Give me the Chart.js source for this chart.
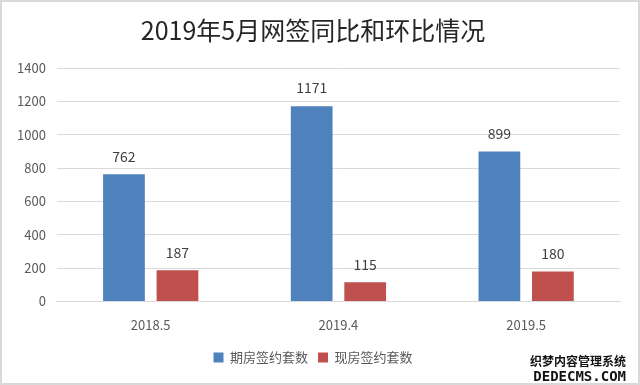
<!DOCTYPE html>
<html>
<head>
<meta charset="utf-8">
<script src="https://cdn.jsdelivr.net/npm/chart.js@4/dist/chart.umd.min.js"></script>
<style>
  html, body { margin: 0; padding: 0; background: #fff; }
  .box { position: relative; width: 636px; height: 381px; border: 2px solid #d9d9d9; }
  canvas { display: block; }
</style>
</head>
<body>
<div class="box"><canvas id="chart" width="636" height="381"></canvas></div>
<script>
// data
const categories = ['2018.5', '2019.4', '2019.5'];
const futureSales = [762, 1171, 899];   // 期房签约套数
const existingSales = [187, 115, 180];  // 现房签约套数
const yTicks = [0, 200, 400, 600, 800, 1000, 1200, 1400];

const font = '"Noto Sans CJK SC", "Open Sans", sans-serif';

// value labels above bars
const barLabels = {
  id: 'barLabels',
  afterDatasetsDraw(chart) {
    const c = chart.ctx;
    c.save();
    c.font = '14px ' + font;
    c.fillStyle = '#404040';
    c.textAlign = 'center';
    c.textBaseline = 'bottom';
    chart.data.datasets.forEach((ds, i) => {
      chart.getDatasetMeta(i).data.forEach((bar, j) => {
        c.fillText(ds.data[j], bar.x, bar.y - 11);
      });
    });
    c.restore();
  }
};

// watermark bottom right
const watermark = {
  id: 'watermark',
  afterDraw(chart) {
    const c = chart.ctx;
    c.save();
    c.fillStyle = '#111';
    c.textAlign = 'right';
    c.font = 'bold 12px ' + font;
    c.fillText('织梦内容管理系统', 624, 359);
    c.font = 'bold 14px "DejaVu Sans Mono", monospace';
    c.fillText('DEDECMS.COM', 624, 375);
    c.restore();
  }
};

new Chart(document.getElementById('chart'), {
  type: 'bar',
  data: {
    labels: categories,
    datasets: [{
      label: '期房签约套数',
      data: futureSales,
      backgroundColor: '#4f81bd',
      barPercentage: 0.78,
      categoryPercentage: 0.57
    }, {
      label: '现房签约套数',
      data: existingSales,
      backgroundColor: '#c0504d',
      barPercentage: 0.78,
      categoryPercentage: 0.57
    }]
  },
  options: {
    responsive: false,
    animation: false,
    layout: { padding: { left: 4, right: 18, top: 4, bottom: 9 } },
    plugins: {
      title: {
        display: true,
        text: '2019年5月网签同比和环比情况',
        color: '#262626',
        font: { family: font, size: 25, weight: 'normal' },
        padding: { top: 9, bottom: 23 }
      },
      legend: {
        position: 'bottom',
        labels: {
          color: '#595959',
          font: { family: font, size: 13 },
          boxWidth: 10,
          boxHeight: 10,
          padding: 10
        }
      },
      tooltip: { enabled: false }
    },
    scales: {
      y: {
        min: 0,
        max: 1400,
        afterBuildTicks(axis) { axis.ticks = yTicks.map(v => ({ value: v })); },
        grid: { color: '#d9d9d9', drawTicks: false },
        border: { display: false },
        ticks: {
          color: '#595959',
          font: { family: font, size: 13 },
          padding: 11,
          callback: v => String(v)
        }
      },
      x: {
        grid: { display: false },
        border: { color: '#d9d9d9' },
        ticks: { color: '#595959', font: { family: font, size: 13 }, padding: 8 }
      }
    }
  },
  plugins: [barLabels, watermark]
});
</script>
</body>
</html>
